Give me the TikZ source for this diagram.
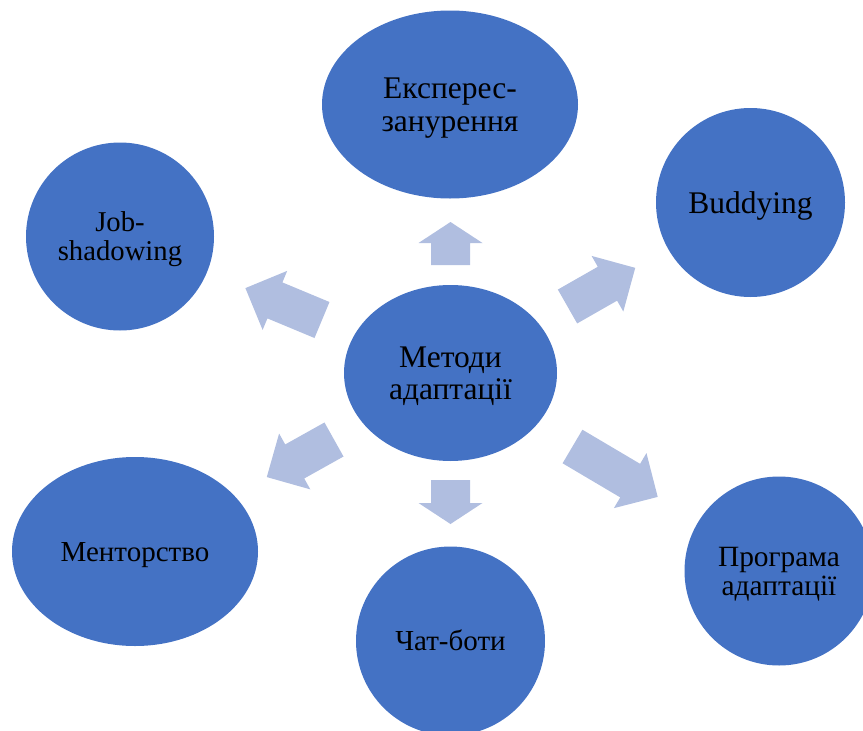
\documentclass[tikz,border=0pt]{standalone}
\usepackage{fontspec}
\setmainfont{Liberation Serif}
\usetikzlibrary{shapes.geometric}
\definecolor{circblue}{HTML}{4472C4}
\definecolor{arrblue}{HTML}{B0BEE0}
\newcommand\upstrut{\rule{0pt}{0.891em}}
\newcommand\dnstrut{\rule[-0.216em]{0pt}{0.216em}}
\tikzset{
  bubble/.style={ellipse, fill=circblue, draw=none, inner sep=0pt, align=center, text=black},
  fsz/.style 2 args={font=\fontsize{#1}{#2}\selectfont},
  blockarrowfill/.style={fill=arrblue, draw=none},
}
\newcommand\blockarrow[6]{% name, x, y, angle, length, head length
  \begin{scope}[shift={(#2,#3)}, rotate=#4]
    \coordinate (#1-base) at (0,0);
    \coordinate (#1-tip) at (#5,0);
    \fill[blockarrowfill] (0,-19.5) -- (#5-#6,-19.5) -- (#5-#6,-32) -- (#1-tip)
      -- (#5-#6,32) -- (#5-#6,19.5) -- (0,19.5) -- cycle;
  \end{scope}}
\begin{document}
\begin{tikzpicture}[x=1pt,y=-1pt]
\useasboundingbox (0,0) rectangle (863,731);
\clip (0,0) rectangle (863,731);
\node[bubble, fsz={31.5}{32}, minimum width=213pt, minimum height=176pt] (center) at (450.5,373) {\upstrut Методи\\адаптації\dnstrut};
\node[bubble, fsz={31.5}{33}, minimum width=256pt, minimum height=188pt] (express) at (450,104.5) {\upstrut Експерес-\\занурення\dnstrut};
\node[bubble, fsz={31.5}{32}, minimum width=189pt, minimum height=189pt] (buddy) at (750.5,202.5) {\upstrut Buddying\dnstrut};
\node[bubble, fsz={28.7}{29}, minimum width=188pt, minimum height=188pt] (job) at (120,236.5) {\upstrut Job-\\shadowing\dnstrut};
\node[bubble, fsz={29}{29}, minimum width=246pt, minimum height=189pt] (mentor) at (135,551.5) {\upstrut Менторство\dnstrut};
\node[bubble, fsz={29}{29}, minimum width=189pt, minimum height=189pt] (chat) at (450.5,641) {\upstrut Чат-боти\dnstrut};
\node[bubble, fsz={29.4}{29}, minimum width=189pt, minimum height=189pt] (program) at (779,571) {\upstrut Програма\\адаптації\dnstrut};
\blockarrow{aup}{450.5}{265}{90}{43}{21}
\blockarrow{adown}{450.5}{480}{-90}{44}{21}
\blockarrow{aur}{567.5}{306.5}{29.7}{78}{32}
\blockarrow{aul}{322}{320}{157.4}{83}{32}
\blockarrow{all}{334}{439.5}{209.2}{77}{32}
\blockarrow{alr}{572.5}{446.5}{-30.6}{99}{32}
\end{tikzpicture}
\end{document}
